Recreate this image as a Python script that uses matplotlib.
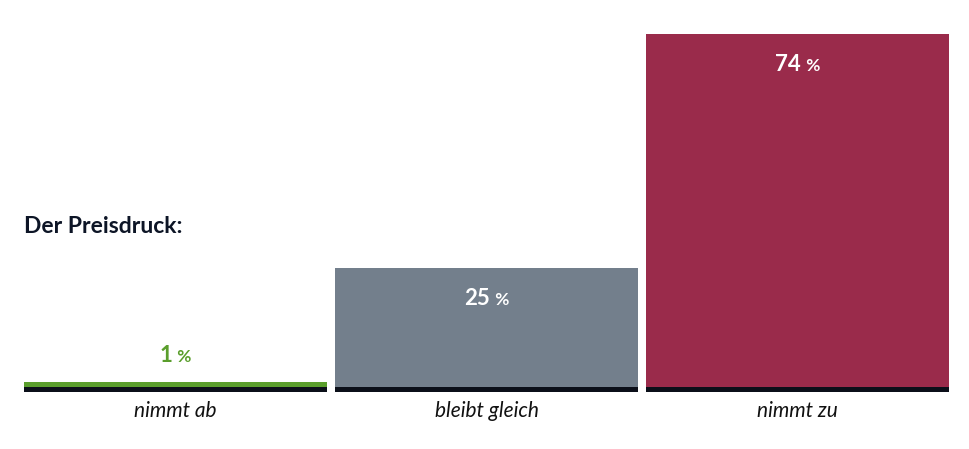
import matplotlib
matplotlib.use("Agg")
from matplotlib import pyplot as plt
from matplotlib.offsetbox import TextArea, HPacker, AnnotationBbox

categories = ["nimmt ab", "bleibt gleich", "nimmt zu"]
values = [1, 25, 74]
colors = ["#5a9e2c", "#737f8c", "#9a2b4b"]
title = "Der Preisdruck:"

plt.rcParams["font.family"] = ["Lato", "DejaVu Sans"]

fig = plt.figure(figsize=(9.7, 4.49), dpi=100)
ax = fig.add_axes([24 / 970, 62 / 449, 925 / 970, 353 / 449])

x = list(range(len(categories)))
width = 0.974
ax.bar(x, values, width=width, color=colors, edgecolor="none")
# black base strip under every bar
ax.bar(x, [-1.05] * len(x), width=width, color="#0b0f19", edgecolor="none",
       clip_on=False)

ax.set_xlim(-width / 2, len(x) - 1 + width / 2)
ax.set_ylim(0, max(values))
ax.axis("off")

for xi, v, c in zip(x, values, colors):
    inside = v > 10
    tc = "white" if inside else c
    num = TextArea(str(v), textprops=dict(color=tc, fontsize=16, fontweight="bold"))
    pct = TextArea(" %", textprops=dict(color=tc, fontsize=12.5, fontweight="bold"))
    box = HPacker(children=[num, pct], align="baseline", pad=0, sep=1)
    dy = -22 if inside else 19
    ab = AnnotationBbox(box, (xi, v), xybox=(0, dy), xycoords="data",
                        boxcoords="offset points", frameon=False,
                        box_alignment=(0.5, 0.5), annotation_clip=False)
    ax.add_artist(ab)
    ax.text(xi, -5.0, categories[xi], ha="center", va="center",
            fontsize=15, fontstyle="italic", color="#111111")

fig.text(24 / 970, 1 - 226 / 449, title, ha="left", va="center",
         fontsize=16.5, fontweight="bold", color="#0d1526")

fig.savefig("out.png", dpi=100, facecolor="white")
